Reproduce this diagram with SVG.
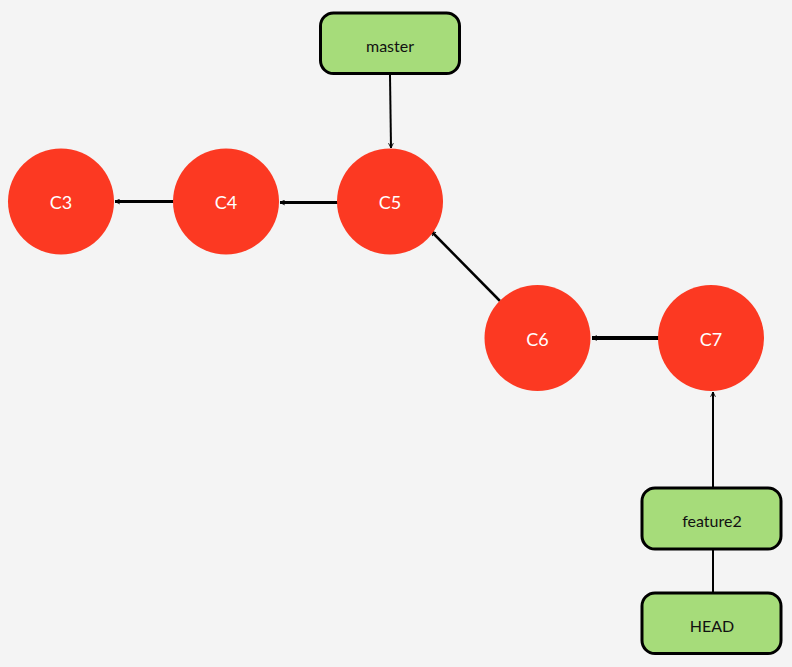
<svg xmlns="http://www.w3.org/2000/svg" width="792" height="667" viewBox="0 0 792 667">
  <defs>
    <marker id="tip" viewBox="0 0 10 10" refX="9" refY="5" markerWidth="6" markerHeight="6" markerUnits="userSpaceOnUse" orient="auto">
      <path d="M1,1 L9,5 L1,9" fill="none" stroke="#000" stroke-width="1.5"/>
    </marker>
    <style>
      .commit { fill: #fc3922; }
      .commit-label { font-family: Lato, "Liberation Sans", sans-serif; font-size: 18px; fill: #ffffff; text-anchor: middle; dominant-baseline: central; }
      .ref { fill: #a6dc7a; stroke: #000; stroke-width: 3; }
      .ref-label { font-family: Lato, "Liberation Sans", sans-serif; font-size: 16px; fill: #111; text-anchor: middle; dominant-baseline: central; }
      .edge { fill: none; stroke: #000; }
    </style>
  </defs>

  <rect x="0" y="0" width="792" height="667" fill="#f4f4f4"/>

  <g id="connectors">
    <line class="edge" x1="390" y1="75" x2="391" y2="148" stroke-width="2" marker-end="url(#tip)"/>
    <line class="edge" x1="177" y1="201.5" x2="115" y2="201.5" stroke-width="3" marker-end="url(#tip)"/>
    <line class="edge" x1="338" y1="202.5" x2="280" y2="202.5" stroke-width="3" marker-end="url(#tip)"/>
    <line class="edge" x1="500" y1="301" x2="431" y2="231" stroke-width="2.5" marker-end="url(#tip)"/>
    <line class="edge" x1="659" y1="338" x2="592" y2="338" stroke-width="4" marker-end="url(#tip)"/>
    <line class="edge" x1="713" y1="487" x2="713" y2="392" stroke-width="2" marker-end="url(#tip)"/>
    <line class="edge" x1="713" y1="550" x2="713" y2="592" stroke-width="2"/>
  </g>

  <g id="C3">
    <circle class="commit" cx="61" cy="201.5" r="53"/>
    <text class="commit-label" x="61" y="202">C3</text>
  </g>
  <g id="C4">
    <circle class="commit" cx="226" cy="201.5" r="53"/>
    <text class="commit-label" x="226" y="202">C4</text>
  </g>
  <g id="C5">
    <circle class="commit" cx="390" cy="201.5" r="53"/>
    <text class="commit-label" x="390" y="202">C5</text>
  </g>
  <g id="C6">
    <circle class="commit" cx="537.5" cy="338" r="53"/>
    <text class="commit-label" x="537.5" y="339">C6</text>
  </g>
  <g id="C7">
    <circle class="commit" cx="711" cy="338" r="53"/>
    <text class="commit-label" x="711" y="339">C7</text>
  </g>

  <g id="master">
    <rect class="ref" x="320.5" y="13" width="139" height="60.5" rx="13"/>
    <text class="ref-label" x="390" y="45">master</text>
  </g>
  <g id="feature2">
    <rect class="ref" x="642" y="488" width="139" height="61" rx="13"/>
    <text class="ref-label" x="712" y="520">feature2</text>
  </g>
  <g id="HEAD">
    <rect class="ref" x="642" y="593" width="139" height="60.5" rx="13"/>
    <text class="ref-label" x="712" y="625">HEAD</text>
  </g>
</svg>
